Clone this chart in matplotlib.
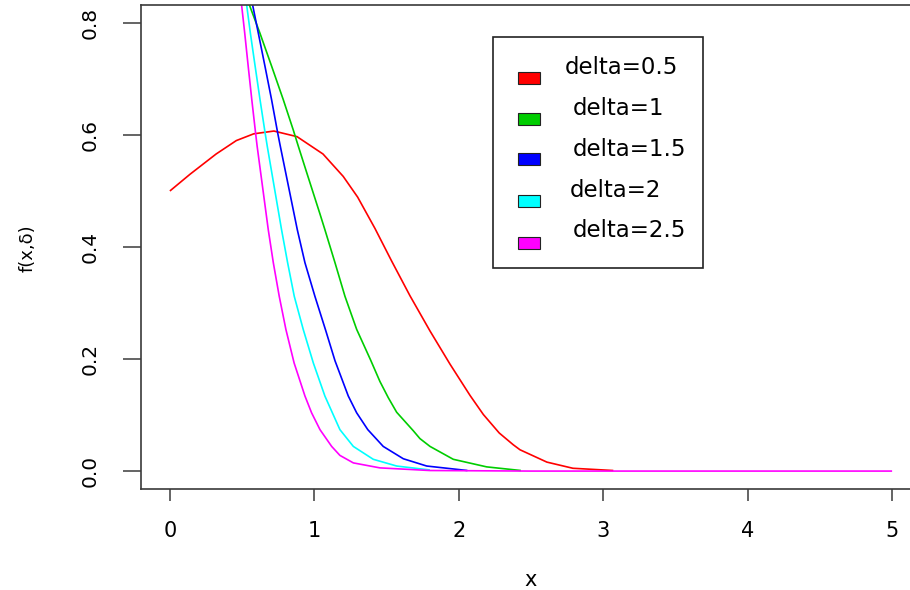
import matplotlib
matplotlib.use("Agg")
import matplotlib.pyplot as plt
from matplotlib.patches import Rectangle

# ---------------- data ----------------
labels = ["delta=0.5", "delta=1", "delta=1.5", "delta=2", "delta=2.5"]
colors = ["#FF0000", "#00CD00", "#0000FF", "#00FFFF", "#FF00FF"]

x_d05 = [0.00, 0.14, 0.32, 0.46, 0.58, 0.72, 0.88, 1.06, 1.20, 1.30, 1.42, 1.535,
         1.662, 1.801, 1.939, 2.078, 2.17, 2.28, 2.377, 2.424, 2.61, 2.79, 3.07]
y_d05 = [0.500, 0.530, 0.566, 0.590, 0.602, 0.607, 0.597, 0.566, 0.526, 0.489, 0.433, 0.375,
         0.313, 0.250, 0.191, 0.135, 0.101, 0.068, 0.047, 0.038, 0.016, 0.005, 0.001]

x_d10 = [0.510, 0.549, 0.623, 0.704, 0.785, 0.854, 0.889, 0.947, 1.039, 1.073, 1.143,
         1.212, 1.293, 1.390, 1.454, 1.512, 1.570, 1.685, 1.731, 1.801, 1.962, 2.193, 2.430]
y_d10 = [0.860, 0.833, 0.782, 0.723, 0.663, 0.609, 0.580, 0.533, 0.459, 0.431, 0.372,
         0.312, 0.253, 0.198, 0.160, 0.131, 0.105, 0.072, 0.058, 0.044, 0.021, 0.0075, 0.001]

x_d15 = [0.555, 0.572, 0.612, 0.658, 0.704, 0.746, 0.762, 0.882, 0.935, 1.004, 1.080,
         1.143, 1.235, 1.293, 1.370, 1.477, 1.616, 1.778, 2.060]
y_d15 = [0.860, 0.833, 0.782, 0.723, 0.663, 0.604, 0.583, 0.431, 0.372, 0.312, 0.250,
         0.197, 0.134, 0.104, 0.074, 0.044, 0.022, 0.009, 0.001]

x_d20 = [0.517, 0.531, 0.557, 0.590, 0.624, 0.659, 0.674, 0.773, 0.815, 0.861, 0.923,
         0.993, 1.073, 1.177, 1.270, 1.408, 1.570, 1.800]
y_d20 = [0.860, 0.833, 0.782, 0.723, 0.663, 0.604, 0.580, 0.431, 0.372, 0.312, 0.253,
         0.193, 0.134, 0.074, 0.044, 0.021, 0.009, 0.002]

x_d25 = [0.485, 0.496, 0.518, 0.542, 0.567, 0.593, 0.604, 0.681, 0.716, 0.757, 0.803,
         0.860, 0.935, 0.981, 1.039, 1.120, 1.177, 1.270, 1.454, 1.800, 2.500, 5.000]
y_d25 = [0.860, 0.833, 0.782, 0.723, 0.663, 0.604, 0.580, 0.431, 0.372, 0.312, 0.253,
         0.193, 0.134, 0.104, 0.074, 0.044, 0.028, 0.0146, 0.0057, 0.001, 0.000, 0.000]

x_ticks = [0, 1, 2, 3, 4, 5]
x_tick_labels = ["0", "1", "2", "3", "4", "5"]
y_ticks = [0.0, 0.2, 0.4, 0.6, 0.8]
y_tick_labels = ["0.0", "0.2", "0.4", "0.6", "0.8"]
x_label = "x"
y_label = "f(x,δ)"

series_x = [x_d05, x_d10, x_d15, x_d20, x_d25]
series_y = [y_d05, y_d10, y_d15, y_d20, y_d25]

# ---------------- layout (pixels of a 910x590 canvas) ----------------
W, H = 910, 590
plt.rcParams["font.family"] = ["DejaVu Sans"]
fig = plt.figure(figsize=(W / 100, H / 100), dpi=100)
fig.patch.set_facecolor("white")


def fx(px):
    return px / W


def fy(py):
    return 1 - py / H


ax_left, ax_right, ax_top, ax_bottom = 141, 921, 5, 489
ax = fig.add_axes([fx(ax_left), fy(ax_bottom), (ax_right - ax_left) / W, (ax_bottom - ax_top) / H])
ax.set_xlim(-0.2, 5.2)
ax.set_ylim(-0.032, 0.832)

for xs, ys, c in zip(series_x, series_y, colors):
    ax.plot(xs, ys, color=c, lw=1.2, solid_joinstyle="round", solid_capstyle="butt")

axis_col = "#3a3a3a"
for sp in ax.spines.values():
    sp.set_color(axis_col)
    sp.set_linewidth(1.2)

ax.set_xticks(x_ticks)
ax.set_xticklabels(x_tick_labels)
ax.set_yticks(y_ticks)
ax.set_yticklabels(y_tick_labels, rotation=90, va="center", fontsize=14.5)
ax.tick_params(axis="x", length=8.6, width=1.1, pad=14.5, labelsize=15, color=axis_col)
ax.tick_params(axis="y", length=13.2, width=1.1, pad=16.5, color=axis_col)

fig.text(fx(531), fy(580), x_label, ha="center", va="center", fontsize=15)
fig.text(fx(28), fy(248), y_label, ha="center", va="center", fontsize=13, rotation=90)

# ---------------- legend (drawn like R's legend box) ----------------
box_l, box_r, box_t, box_b = 493.3, 703.3, 36.7, 267.7
fig.add_artist(Rectangle((fx(box_l), fy(box_b)), (box_r - box_l) / W, (box_b - box_t) / H,
                         transform=fig.transFigure, facecolor="white",
                         edgecolor="#222222", lw=1.2, zorder=5))
sq_l, sq_w, sq_h = 517.7, 22.3, 12.3
sq_cy = [77.8, 118.7, 159.2, 201.0, 243.0]
txt_x = [565.0, 572.7, 572.7, 570.0, 572.7]
txt_cy = [67.3, 108.7, 149.0, 190.7, 231.0]
for lab, c, cy, tx, ty in zip(labels, colors, sq_cy, txt_x, txt_cy):
    fig.add_artist(Rectangle((fx(sq_l), fy(cy + sq_h / 2)), sq_w / W, sq_h / H,
                             transform=fig.transFigure, facecolor=c,
                             edgecolor="#222222", lw=0.8, zorder=6))
    fig.text(fx(tx), fy(ty), lab, ha="left", va="center", fontsize=16.5, zorder=7)

fig.savefig("out.png", dpi=100)
